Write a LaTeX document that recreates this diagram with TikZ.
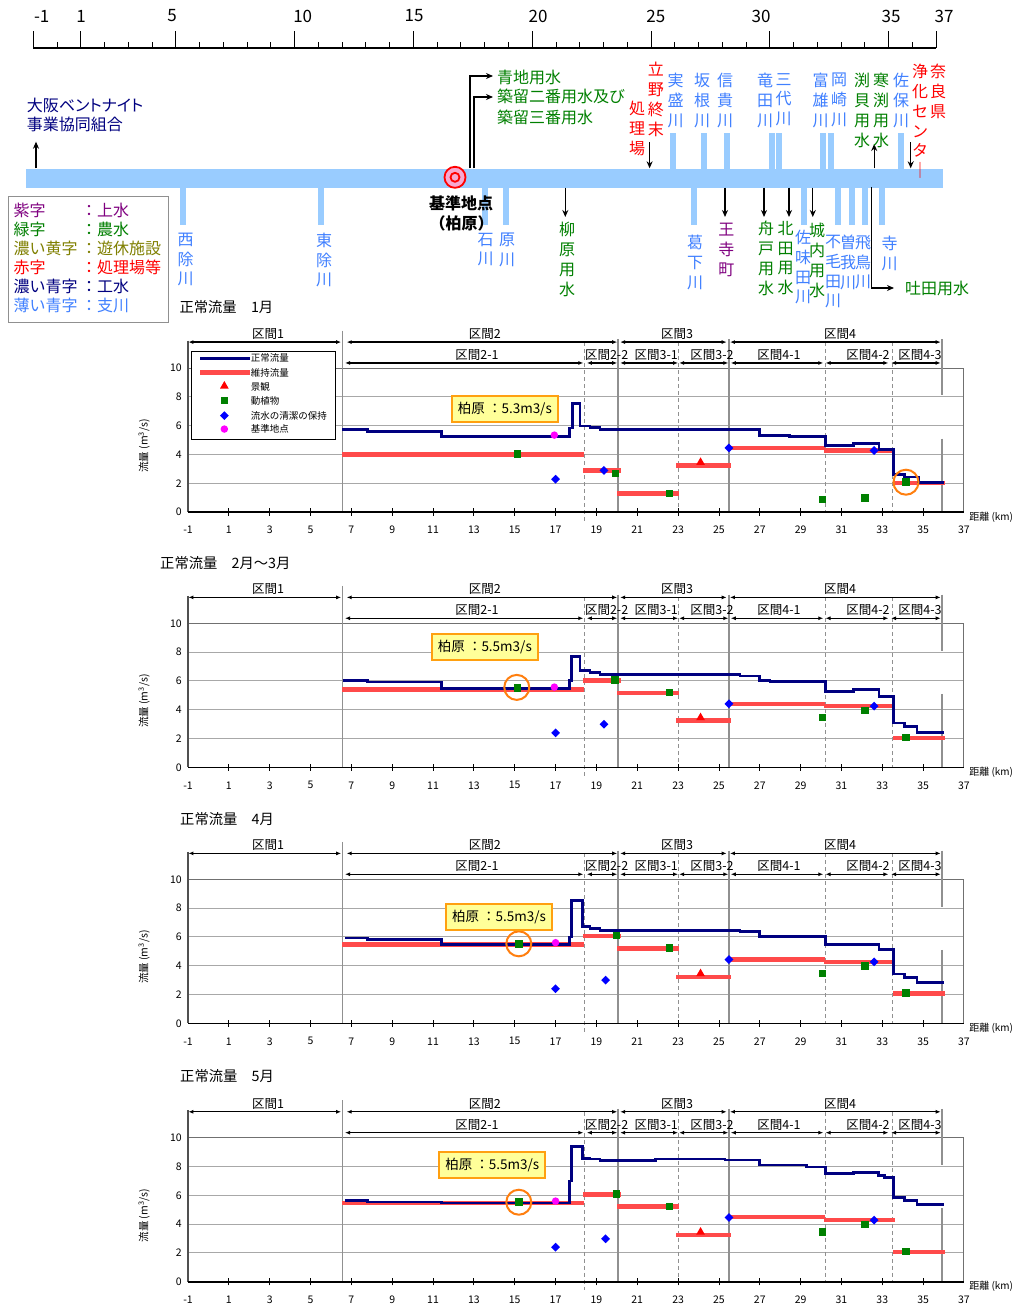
\documentclass[tikz,border=0pt]{standalone}
\usepackage{fontspec}
\setmainfont{Noto Sans CJK JP}
\usetikzlibrary{arrows.meta,shapes.geometric}
\definecolor{barblue}{HTML}{99CCFF}
\definecolor{lblue}{HTML}{4080FF}
\definecolor{dgreen}{HTML}{008000}
\definecolor{purp}{HTML}{800080}
\definecolor{oliv}{HTML}{808000}
\definecolor{navy}{HTML}{000080}
\definecolor{redl}{HTML}{FF4A4A}
\definecolor{orng}{HTML}{FF7F0F}
\definecolor{orng2}{HTML}{FFA010}
\definecolor{callfill}{HTML}{FFFF99}
\definecolor{gridg}{HTML}{A8A8A8}
\definecolor{framec}{HTML}{707070}
\definecolor{secg}{HTML}{909090}
\definecolor{axisc}{HTML}{505050}
\definecolor{ringfill}{HTML}{F7A8D0}
\definecolor{magm}{HTML}{FF00FF}
\tikzset{
  vt/.style={align=center, inner sep=0pt, anchor=north, font=\fontsize{16}{19.8}\selectfont},
  ht/.style={inner sep=0pt, font=\fontsize{16}{19.8}\selectfont},
  scalelab/.style={inner sep=0pt, font=\fontsize{17}{20}\selectfont},
  flow/.style={-{Stealth[length=7pt,width=6pt]}, line width=1.3pt},
  gridl/.style={draw=gridg, line width=0.9pt},
  frameline/.style={draw=framec, line width=1pt},
  secline/.style={draw=secg, line width=1.2pt},
  secdash/.style={draw=secg, line width=0.9pt, dash pattern=on 4pt off 3pt},
  axisl/.style={draw=axisc, line width=1.2pt},
  axisb/.style={draw=black, line width=1.6pt},
  ticklab/.style={inner sep=0pt, font=\fontsize{10.5}{12}\selectfont},
  seclab/.style={inner sep=0pt, font=\fontsize{12.5}{14}\selectfont},
  secarr/.style={{Latex[length=5pt,width=4pt]}-{Latex[length=5pt,width=4pt]}, line width=1.3pt},
  blueline/.style={draw=navy, line width=2.8pt, line join=miter},
  redline/.style={draw=redl, line width=4.5pt},
  sqm/.style={rectangle, fill=dgreen, minimum size=7.5pt, inner sep=0pt},
  dia/.style={diamond, fill=blue, minimum size=9pt, inner sep=0pt},
  magmk/.style={circle, fill=magm, minimum size=7.5pt, inner sep=0pt},
  trimk/.style={regular polygon, regular polygon sides=3, fill=red, minimum size=10pt, inner sep=0pt},
  hilite/.style={circle, draw=orng, line width=2pt, minimum size=25pt, inner sep=0pt},
  calbox/.style={draw=orng2, fill=callfill, line width=1.6pt, minimum width=106pt, minimum height=26pt, inner sep=0pt, font=\fontsize{13.5}{16}\selectfont},
  leglab/.style={anchor=west, inner sep=0pt, font=\fontsize{9.5}{11}\selectfont},
  ttl/.style={anchor=west, inner sep=0pt, font=\fontsize{14.3}{17}\selectfont},
  lgd/.style={anchor=west, inner sep=0pt, font=\fontsize{16}{19}\selectfont},
}
\newcommand{\chartframe}[1]{%
  \foreach \v in {2,4,6,8}{\draw[gridl] (-1,\v) -- (37,\v);}
  \draw[frameline] (-1,10) -- (37,10) -- (37,0);
  \draw[secline] (6.56,12.6) -- (6.56,0);
  \draw[secline] (20.06,12.0) -- (20.06,0);
  \draw[secline] (25.49,12.0) -- (25.49,0);
  \draw[secline] (35.92,12.0) -- (35.92,8.1);
  \draw[secline] (35.92,5.1) -- (35.92,0);
  \draw[secdash] (18.39,11.8) -- (18.39,-0.6);
  \foreach \k in {23.0,30.24,33.48}{\draw[secdash] (\k,11.8) -- (\k,0);}
  \draw[axisl] (-1,11.9) -- (-1,0);
  \draw[axisb] (-1,0) -- (37,0);
  \foreach \k in {1,3,...,35}{\draw[line width=0.8pt] (\k,-0.25) -- (\k,0.25);}
  \foreach \k in {-1,1,...,37}{\node[ticklab] (#1xt\k) at (\k,-1.25) {\k};}
  \foreach \v in {0,2,...,10}{\node[ticklab,anchor=east] (#1yt\v) at (-1.3,\v) {\v};}
  \node[rotate=90, inner sep=0pt, font=\fontsize{10.5}{12}\selectfont] (#1ylab) at (-3.15,4.6) {流量 (m\textsuperscript{3}/s)};
  \node[anchor=west, inner sep=0pt, font=\fontsize{10}{12}\selectfont] (#1xlab) at (37.25,-0.35) {距離 (km)};
  \draw[secarr] (-0.98,11.8) -- (6.5,11.8);
  \draw[secarr] (6.77,11.8) -- (20.02,11.8);
  \draw[secarr] (20.16,11.8) -- (25.38,11.8);
  \draw[secarr] (25.54,11.8) -- (35.86,11.8);
  \draw[secarr] (6.69,10.35) -- (18.36,10.35);
  \draw[secarr] (18.53,10.35) -- (20.02,10.35);
  \draw[secarr] (20.16,10.35) -- (23.0,10.35);
  \draw[secarr] (23.05,10.35) -- (25.46,10.35);
  \draw[secarr] (25.58,10.35) -- (30.11,10.35);
  \draw[secarr] (30.22,10.35) -- (33.3,10.35);
  \draw[secarr] (33.43,10.35) -- (35.86,10.35);
  \node[seclab] (#1s1) at (2.92,12.35) {区間1};
  \node[seclab] (#1s2) at (13.54,12.35) {区間2};
  \node[seclab] (#1s3) at (22.95,12.35) {区間3};
  \node[seclab] (#1s4) at (30.93,12.35) {区間4};
  \node[seclab] (#1s21) at (13.15,10.9) {区間2-1};
  \node[seclab] (#1s22) at (19.5,10.9) {区間2-2};
  \node[seclab] (#1s31) at (21.93,10.9) {区間3-1};
  \node[seclab] (#1s32) at (24.66,10.9) {区間3-2};
  \node[seclab] (#1s41) at (27.94,10.9) {区間4-1};
  \node[seclab] (#1s42) at (32.3,10.9) {区間4-2};
  \node[seclab] (#1s43) at (34.85,10.9) {区間4-3};
}
\newcommand{\redsegs}[7]{%
  \draw[redline] (6.56,#1) -- (18.4,#1);
  \draw[redline] (18.36,#2) -- (20.2,#2);
  \draw[redline] (20.02,#3) -- (23.06,#3);
  \draw[redline] (22.9,#4) -- (25.58,#4);
  \draw[redline] (25.55,#5) -- (30.2,#5);
  \draw[redline] (30.16,#6) -- (33.62,#6);
  \draw[redline] (33.54,#7) -- (36.07,#7);
}
\begin{document}
\begin{tikzpicture}[x=1pt,y=-1pt]
\useasboundingbox[fill=white] (0,0) rectangle (1015,1306);

% ---------- distance scale ----------
\draw[line width=1.3pt] (33.3,48) -- (936,48);
\foreach \k in {-1,...,37}{\draw[line width=1pt] ({33.3+(\k+1)*23.76},48) -- ++(0,-6);}
\foreach \k in {-1,1,5,10,15,20,25,30,35,37}{\draw[line width=1pt] ({33.3+(\k+1)*23.76},48) -- ++(0,-17);}
\foreach \k/\xx in {-1/41.7,1/81,5/172,10/302.7,15/414,20/538,25/655.8,30/761,35/891,37/944}{\node[scalelab] (sc\k) at (\xx,16) {\k};}

% ---------- river ----------
\foreach \xx in {672.8,703.9,726.8,771.8,779,823,830.5,900.8}{\fill[barblue] (\xx-3,133) rectangle (\xx+3,169);}
\foreach \xx in {183.3,321,485,505.6,694,803.5,837.7,852,865,882}{\fill[barblue] (\xx-3,186) rectangle (\xx+3,225);}
\node[fill=barblue, inner sep=0pt, minimum width=917pt, minimum height=19pt, anchor=north west] (river) at (26,168.3) {};

% reference point
\node[circle, draw=red, line width=1.8pt, fill=ringfill, minimum size=21pt, inner sep=0pt] (kijun) at (455,177.3) {};
\node[circle, draw=red, line width=1.8pt, fill=ringfill, minimum size=9pt, inner sep=0pt] (kijunin) at (455,177.3) {};
\node[inner sep=0pt, font=\bfseries\fontsize{16}{19}\selectfont] (kijunlab) at (461,203) {基準地点};
\node[inner sep=0pt, font=\bfseries\fontsize{16}{19}\selectfont] (kashiwara) at (461.7,223) {（柏原）};

% ---------- flows ----------
\coordinate (osaka) at (36,141.7);
\draw[flow] (osaka |- river.north) -- (osaka);
\coordinate (aojiS) at (470,168.3);
\coordinate (aoji) at (493,76);
\draw[flow] (aojiS) |- (aoji);
\coordinate (tsukuS) at (474,168.3);
\coordinate (tsuku) at (493,97);
\draw[flow] (tsukuS) |- (tsuku);
\coordinate (tatsuno) at (649.6,142);
\draw[flow] (tatsuno) -- (tatsuno |- river.north);
\coordinate (joka) at (910.7,142);
\draw[flow] (joka) -- (joka |- river.north);
\coordinate (kanbuchi) at (874.2,144);
\draw[flow] (kanbuchi |- river.north) -- (kanbuchi);
\coordinate (handaS) at (871.8,187.3);
\coordinate (handa) at (894,288);
\draw[flow] (handaS) |- (handa);
\foreach \xx/\nm in {565.3/yana,725/oji,764/funa,789/kita,812.8/jonai}{
  \coordinate (\nm) at (\xx,217);
  \draw[flow] (\nm |- river.south) -- (\nm);
}

% ---------- labels above ----------
\node[ht, text=navy, align=left, anchor=north west, font=\addfontfeature{RawFeature=+palt}\fontsize{16}{19}\selectfont] (osakalab) at (26.7,98) {大阪ベントナイト\\事業協同組合};
\node[ht, text=dgreen, anchor=west] (aojilab) at (497,77) {青地用水};
\node[ht, text=dgreen, anchor=north west, align=left, font=\fontsize{16}{20.5}\selectfont] (tsukulab) at (497,89) {築留二番用水及び\\築留三番用水};
\node[vt, text=red] (tatsunolab) at (655.8,62) {立\\野\\終\\末};
\node[vt, text=red] (shorilab) at (637,101) {処\\理\\場};
\node[vt, text=lblue] (sanemori) at (675.6,73) {実\\盛\\川};
\node[vt, text=lblue] (sakane) at (702,73) {坂\\根\\川};
\node[vt, text=lblue] (shigi) at (725,73) {信\\貴\\川};
\node[vt, text=lblue] (tatsuta) at (765,73) {竜\\田\\川};
\node[vt, text=lblue] (mishiro) at (783.7,73) {三\\代\\川};
\node[vt, text=lblue] (tomio) at (820.6,73) {富\\雄\\川};
\node[vt, text=lblue] (okazaki) at (839,73) {岡\\崎\\川};
\node[vt, text=dgreen] (fuchikai) at (862,73) {渕\\貝\\用\\水};
\node[vt, text=dgreen] (kanbuchilab) at (881,73) {寒\\渕\\用\\水};
\node[vt, text=lblue] (saho) at (901,73) {佐\\保\\川};
\node[vt, text=red] (jokalab) at (920,64) {浄\\化\\セ\\ン\\タ\\｜};
\node[vt, text=red] (nara) at (938,64) {奈\\良\\県};

% ---------- labels below ----------
\node[vt, text=lblue] (nishiyoke) at (185.7,232.7) {西\\除\\川};
\node[vt, text=lblue] (higashiyoke) at (324,232.7) {東\\除\\川};
\node[vt, text=lblue] (ishikawa) at (485.7,232.7) {石\\川};
\node[vt, text=lblue] (harakawa) at (507,233) {原\\川};
\node[vt, text=dgreen] (yanalab) at (567,222) {柳\\原\\用\\水};
\node[vt, text=lblue] (katsuge) at (695,235) {葛\\下\\川};
\node[vt, text=purp] (ojilab) at (726.4,223) {王\\寺\\町};
\node[vt, text=dgreen] (funalab) at (766,221) {舟\\戸\\用\\水};
\node[vt, text=dgreen] (kitalab) at (785.5,221) {北\\田\\用\\水};
\node[vt, text=lblue] (samita) at (803,230) {佐\\味\\田\\川};
\node[vt, text=dgreen] (jonailab) at (817,223) {城\\内\\用\\水};
\node[vt, text=lblue] (fumota) at (833,235) {不\\毛\\田\\川};
\node[vt, text=lblue] (soga) at (848,235) {曽\\我\\川};
\node[vt, text=lblue] (asuka) at (863,235) {飛\\鳥\\川};
\node[vt, text=lblue] (terakawa) at (889.6,236) {寺\\川};
\node[ht, text=dgreen, anchor=west] (handalab) at (905,288) {吐田用水};

% ---------- colour legend ----------
\node[draw=secg, line width=1pt, fill=white, anchor=north west, minimum width=160pt, minimum height=126pt, inner sep=0pt] (legend) at (8.3,196) {};
\node[lgd, text=purp] (lg1a) at (13.3,210) {紫字};
\node[lgd, text=purp] (lg1b) at (81,210) {：上水};
\node[lgd, text=dgreen] (lg2a) at (13.3,229.3) {緑字};
\node[lgd, text=dgreen] (lg2b) at (81,229.3) {：農水};
\node[lgd, text=oliv] (lg3a) at (13.3,248.3) {濃い黄字};
\node[lgd, text=oliv] (lg3b) at (81,248.3) {：遊休施設};
\node[lgd, text=red] (lg4a) at (13.3,267.3) {赤字};
\node[lgd, text=red] (lg4b) at (81,267.3) {：処理場等};
\node[lgd, text=navy] (lg5a) at (13.3,286.7) {濃い青字};
\node[lgd, text=navy] (lg5b) at (81,286.7) {：工水};
\node[lgd, text=lblue] (lg6a) at (13.3,305) {薄い青字};
\node[lgd, text=lblue] (lg6b) at (81,305) {：支川};

% ---------- chart titles ----------
\node[ttl] (t1) at (179.3,306.7) {正常流量　1月};
\node[ttl] (t2) at (160,563.3) {正常流量　2月～3月};
\node[ttl] (t3) at (180,819) {正常流量　4月};
\node[ttl] (t4) at (180,1076) {正常流量　5月};

% ---------- chart 1 ----------
\begin{scope}[shift={(208.42,512)}, x=20.42pt, y=14.4pt]
\chartframe{a}
\redsegs{4.0}{2.89}{1.28}{3.24}{4.45}{4.27}{2.03}
\draw[blueline] (6.56,5.73) -| (7.78,5.57) -| (11.42,5.22) -| (17.67,5.83) -| (17.82,7.55) -| (18.2,5.97) -| (18.69,5.85) -| (19.18,5.73) -| (27.0,5.31) -| (28.45,5.22) -| (30.23,4.61) -| (31.6,4.73) -| (32.84,4.34) -| (33.54,2.59) -| (34.1,2.43) -| (34.76,2.05) -- (36.02,2.05);
\node[sqm] (am1) at (15.13,4.02) {};
\node[magmk] (am2) at (16.94,5.34) {};
\node[dia] (am3) at (17.0,2.28) {};
\node[dia] (am4) at (19.37,2.89) {};
\node[sqm] (am5) at (19.94,2.66) {};
\node[sqm] (am6) at (22.57,1.30) {};
\node[trimk] (am7) at (24.1,3.45) {};
\node[dia] (am8) at (25.49,4.45) {};
\node[sqm] (am9) at (30.06,0.88) {};
\node[sqm] (am10) at (32.15,0.98) {};
\node[dia] (am11) at (32.6,4.27) {};
\node[sqm] (am12) at (34.16,2.07) {};
\node[hilite] (ahl) at (34.16,2.07) {};
\node[calbox] (abox) at (14.52,7.15) {柏原 ：5.3m3/s};
% legend
\node[draw=black, line width=0.8pt, fill=white, anchor=north west, minimum width=144pt, minimum height=88pt, inner sep=0pt] (alg) at (-0.85,11.2) {};
\draw[blueline] (-0.41,10.67) -- (2.04,10.67);
\node[leglab] (alg1) at (2.07,10.67) {正常流量};
\draw[redline] (-0.41,9.68) -- (2.04,9.68);
\node[leglab] (alg2) at (2.07,9.68) {維持流量};
\node[trimk] (algm3) at (0.78,8.75) {};
\node[leglab] (alg3) at (2.07,8.7) {景観};
\node[sqm] (algm4) at (0.78,7.73) {};
\node[leglab] (alg4) at (2.07,7.73) {動植物};
\node[dia] (algm5) at (0.78,6.69) {};
\node[leglab] (alg5) at (2.07,6.69) {流水の清潔の保持};
\node[magmk] (algm6) at (0.78,5.76) {};
\node[leglab] (alg6) at (2.07,5.76) {基準地点};
\end{scope}

% ---------- chart 2 ----------
\begin{scope}[shift={(208.42,767.3)}, x=20.42pt, y=14.4pt]
\chartframe{b}
\redsegs{5.42}{6.02}{5.17}{3.24}{4.41}{4.25}{2.04}
\draw[blueline] (6.6,6.02) -| (7.78,5.92) -| (11.42,5.46) -| (17.67,6.02) -| (17.79,7.72) -| (18.2,6.71) -| (18.69,6.57) -| (19.18,6.43) -| (26.03,6.34) -| (27.0,6.02) -| (27.5,5.95) -| (30.23,5.26) -| (31.6,5.38) -| (32.84,4.94) -| (33.54,3.08) -| (34.1,2.85) -| (34.7,2.39) -- (36.02,2.39);
\node[sqm] (bm1) at (15.13,5.5) {};
\node[hilite] (bhl) at (15.1,5.55) {};
\node[magmk] (bm2) at (16.94,5.57) {};
\node[dia] (bm3) at (17.0,2.39) {};
\node[dia] (bm4) at (19.37,2.99) {};
\node[sqm] (bm5) at (19.9,6.06) {};
\node[sqm] (bm6) at (22.57,5.2) {};
\node[trimk] (bm7) at (24.1,3.45) {};
\node[dia] (bm8) at (25.49,4.41) {};
\node[sqm] (bm9) at (30.06,3.45) {};
\node[sqm] (bm10) at (32.15,3.95) {};
\node[dia] (bm11) at (32.6,4.25) {};
\node[sqm] (bm12) at (34.16,2.06) {};
\node[calbox] (bbox) at (13.54,8.34) {柏原 ：5.5m3/s};
\end{scope}

% ---------- chart 3 ----------
\begin{scope}[shift={(208.42,1023.3)}, x=20.42pt, y=14.4pt]
\chartframe{c}
\redsegs{5.47}{6.05}{5.2}{3.23}{4.43}{4.27}{2.08}
\draw[blueline] (6.69,5.93) -| (7.78,5.83) -| (11.42,5.47) -| (17.67,6.0) -| (17.79,8.55) -| (18.3,6.74) -| (18.69,6.58) -| (19.18,6.46) -| (26.03,6.39) -| (27.0,6.05) -| (30.23,5.47) -| (32.84,5.13) -| (33.54,3.42) -| (34.1,3.19) -| (34.7,2.84) -- (36.02,2.84);
\node[sqm] (cm1) at (15.2,5.52) {};
\node[hilite] (chl) at (15.2,5.52) {};
\node[magmk] (cm2) at (17.0,5.6) {};
\node[dia] (cm3) at (17.0,2.4) {};
\node[dia] (cm4) at (19.45,3.0) {};
\node[sqm] (cm5) at (19.98,6.09) {};
\node[sqm] (cm6) at (22.57,5.24) {};
\node[trimk] (cm7) at (24.1,3.45) {};
\node[dia] (cm8) at (25.49,4.43) {};
\node[sqm] (cm9) at (30.06,3.46) {};
\node[sqm] (cm10) at (32.15,3.99) {};
\node[dia] (cm11) at (32.6,4.27) {};
\node[sqm] (cm12) at (34.16,2.1) {};
\node[calbox] (cbox) at (14.23,7.4) {柏原 ：5.5m3/s};
\end{scope}

% ---------- chart 4 ----------
\begin{scope}[shift={(208.42,1281.7)}, x=20.42pt, y=14.4pt]
\chartframe{d}
\redsegs{5.47}{6.05}{5.24}{3.25}{4.48}{4.29}{2.08}
\draw[blueline] (6.69,5.66) -| (7.78,5.54) -| (11.42,5.47) -| (17.67,6.99) -| (17.79,9.39) -| (18.3,8.58) -| (18.69,8.52) -| (19.18,8.43) -| (21.9,8.52) -| (25.3,8.45) -| (27.0,8.1) -| (29.3,7.97) -| (30.23,7.51) -| (31.6,7.58) -| (32.8,7.35) -| (33.1,7.24) -| (33.54,5.84) -| (34.1,5.66) -| (34.7,5.38) -- (36.02,5.38);
\node[sqm] (dm1) at (15.2,5.52) {};
\node[hilite] (dhl) at (15.2,5.52) {};
\node[magmk] (dm2) at (17.0,5.6) {};
\node[dia] (dm3) at (17.0,2.4) {};
\node[dia] (dm4) at (19.45,2.98) {};
\node[sqm] (dm5) at (19.98,6.1) {};
\node[sqm] (dm6) at (22.57,5.24) {};
\node[trimk] (dm7) at (24.1,3.45) {};
\node[dia] (dm8) at (25.49,4.46) {};
\node[sqm] (dm9) at (30.06,3.46) {};
\node[sqm] (dm10) at (32.15,3.97) {};
\node[dia] (dm11) at (32.6,4.28) {};
\node[sqm] (dm12) at (34.16,2.1) {};
\node[calbox] (dbox) at (13.9,8.1) {柏原 ：5.5m3/s};
\end{scope}
\end{tikzpicture}
\end{document}
